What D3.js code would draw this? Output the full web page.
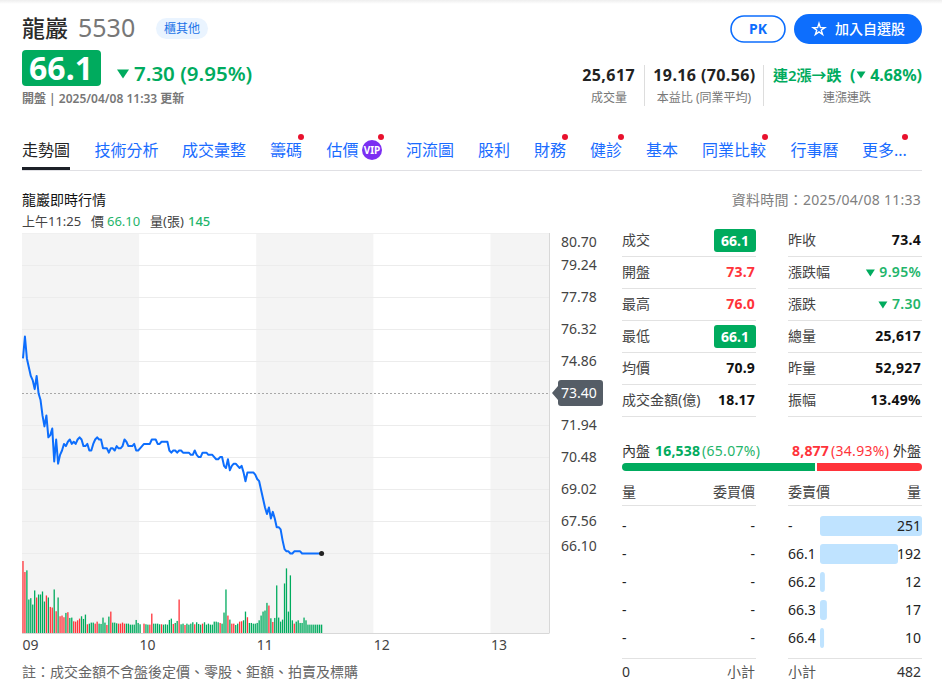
<!DOCTYPE html>
<html><head><meta charset="utf-8">
<script src="https://cdn.jsdelivr.net/npm/d3@7"></script>
<style>
html,body{margin:0;padding:0;background:#fff;overflow:hidden}
svg{display:block}
text{font-family:"Noto Sans","Noto Sans CJK TC",sans-serif}
</style></head><body>
<svg id="c" width="942" height="693"></svg>
<script>
const prices=[75.0,76.0,75.0,74.6,74.2,74.0,73.6,74.2,73.4,73.1,
72.4,71.9,72.4,71.4,71.5,71.8,70.3,71.3,70.2,70.6,
70.8,71.1,71.0,71.2,71.3,71.1,71.2,71.1,71.3,71.4,
71.3,71.0,71.0,71.1,70.8,70.8,71.1,71.3,71.4,71.3,
71.3,70.9,70.9,70.9,70.7,70.9,70.9,70.8,71.0,70.9,
70.9,71.0,71.3,71.2,71.0,71.0,71.0,71.1,70.8,70.8,
70.9,71.0,71.1,71.1,71.1,71.1,71.3,71.3,71.3,71.1,
71.1,71.2,71.2,71.2,71.2,70.8,70.7,70.8,70.8,70.7,
70.8,70.8,70.7,70.7,70.7,70.7,70.6,70.6,70.8,70.6,
70.5,70.5,70.7,70.7,70.7,70.6,70.6,70.6,70.5,70.4,
70.4,70.5,70.5,70.1,70.0,70.4,69.9,70.1,70.2,70.2,
70.1,70.0,70.1,69.8,69.4,69.8,69.8,69.8,69.8,69.7,
69.5,69.4,69.0,68.6,68.2,67.9,68.2,67.7,68.0,67.7,
67.3,67.3,67.2,66.7,66.3,66.2,66.2,66.1,66.1,66.2,
66.2,66.2,66.2,66.1,66.1,66.1,66.1,66.1,66.1,66.1,66.1,66.1,66.1,66.1];
const volumes=[1247,1056,1085,580,603,493,737,615,667,667,
719,545,650,615,452,441,754,377,615,290,
302,273,348,360,261,267,203,197,220,249,
290,244,319,151,162,180,180,162,197,162,
157,267,180,139,284,371,180,180,168,162,
162,180,162,162,162,145,145,145,226,174,
151,0,162,151,145,145,336,162,162,162,
151,151,145,151,145,226,249,157,174,209,
580,151,162,139,162,145,162,186,151,186,
157,145,162,186,145,162,145,145,197,197,
186,174,162,354,754,302,232,162,162,139,
162,197,203,220,371,273,174,174,162,162,
174,220,302,371,389,522,476,255,191,261,
824,267,197,232,858,1119,371,998,220,162,
197,220,174,174,267,220,145,145,145,145,145,145,145,145];
const upBars=[0,1,7,12,14,15,17,19,20,21,23,26,27,28,29,33,37,38,43,45,49,50,51,52,62,65,66,71,77,80,83,88,92,101,105,107,108,111,112,115,126,128,139];
const priceTicks=[80.70,79.24,77.78,76.32,74.86,71.94,70.48,69.02,67.56,66.10];
const prevClose=73.40;
const hourTicks=[0,60,120,180,240];
const hourLabels=["09","10","11","12","13"];
const tabs=["技術分析","成交彙整","籌碼","估價","河流圖","股利","財務","健診","基本","同業比較","行事曆","更多..."];
const tabX=[94.5,182,270,326.5,406,478,534,590,646,702,790.5,862];
const tabDots=[301,381,565,621,765,905];
const leftLabels=["成交","開盤","最高","最低","均價","成交金額(億)"];
const leftValues=["66.1","73.7","76.0","66.1","70.9","18.17"];
const leftKinds=["box","up","up","box","n","n"];
const rightLabels=["昨收","漲跌幅","漲跌","總量","昨量","振幅"];
const rightValues=["73.4","9.95%","7.30","25,617","52,927","13.49%"];
const rightKinds=["n","down","down","n","n","n"];
const askPrices=["-","66.1","66.2","66.3","66.4"];
const askQty=[251,192,12,17,10];

const GREEN="#00ab5e",RED="#ff333a",BLUE="#0d6efd";
const svg=d3.select("#c");
function T(x,y,s,o={}){
  const t=svg.append("text").attr("x",x).attr("y",y).text(s)
   .attr("font-size",o.size||14).attr("fill",o.fill||"#333")
   .attr("font-weight",o.weight||400).attr("text-anchor",o.anchor||"start");
  if(o.ls) t.attr("letter-spacing",o.ls);
  return t;
}
function R(x,y,w,h,fill,rx){return svg.append("rect").attr("x",x).attr("y",y).attr("width",w).attr("height",h).attr("fill",fill).attr("rx",rx||0);}
function L(x1,y1,x2,y2,c){return svg.append("line").attr("x1",x1).attr("y1",y1).attr("x2",x2).attr("y2",y2).attr("stroke",c).attr("stroke-width",1);}
function tri(cx,cy,w,h,c){svg.append("path").attr("d",`M${cx-w/2},${cy-h/2}L${cx+w/2},${cy-h/2}L${cx},${cy+h/2}Z`).attr("fill",c);}

// top shadow
const defs=svg.append("defs");
const g0=defs.append("linearGradient").attr("id","sh").attr("x1",0).attr("x2",0).attr("y1",0).attr("y2",1);
g0.append("stop").attr("offset",0).attr("stop-color","#eee");
g0.append("stop").attr("offset",1).attr("stop-color","#fff");
R(0,0,942,4,"url(#sh)");

// header
T(22,37,"龍巖",{size:23,weight:500,fill:"#2b2b2b"});
T(78,37,"5530",{size:25,fill:"#777"});
R(156,18,52,21,"#eaf4ff",10.5);
T(182,33,"櫃其他",{size:12,fill:"#1a73e8",anchor:"middle"});
R(22,50,79,36,GREEN,4);
T(61,80,"66.1",{size:32,weight:700,fill:"#fff",anchor:"middle"});
tri(123,74,12,9,GREEN);
T(134,81,"7.30 (9.95%)",{size:20.5,weight:600,fill:GREEN});
T(22,103,"開盤 | 2025/04/08 11:33 更新",{size:12,weight:600,fill:"#777"});

// buttons
svg.append("rect").attr("x",731).attr("y",16).attr("width",54).attr("height",26).attr("rx",13).attr("fill","#fff").attr("stroke",BLUE).attr("stroke-width",1.6);
T(758,34,"PK",{size:14,weight:700,fill:BLUE,anchor:"middle"});
R(794,14,128,30,BLUE,15);
svg.append("path").attr("d",d3.symbol(d3.symbolStar,42)()).attr("transform","translate(819,29.5)").attr("fill","none").attr("stroke","#fff").attr("stroke-width",1.4);
T(835,34,"加入自選股",{size:14,weight:500,fill:"#fff"});

// stats
T(635,81,"25,617",{size:16,weight:700,fill:"#222",anchor:"end",ls:0.4});
T(609,102,"成交量",{size:12,fill:"#777",anchor:"middle"});
L(644.5,65,644.5,106,"#ddd");
T(704.5,81,"19.16 (70.56)",{size:16,weight:700,fill:"#222",anchor:"middle",ls:0.4});
T(704,102,"本益比 (同業平均)",{size:12,fill:"#777",anchor:"middle"});
L(763.5,65,763.5,106,"#ddd");
T(773,81,"連2漲→跌",{size:15,weight:600,fill:GREEN});
T(850,81,"(",{size:16,weight:700,fill:GREEN});
tri(861,75,9,7,GREEN);
T(922,81,"4.68%)",{size:16,weight:700,fill:GREEN,anchor:"end"});
T(847,102,"連漲連跌",{size:12,fill:"#777",anchor:"middle"});

// tabs
T(22,156,"走勢圖",{size:16,fill:"#222"});
tabs.forEach((s,i)=>T(tabX[i],156,s,{size:16,fill:"#1a6cff"}));
svg.append("circle").attr("cx",372).attr("cy",150).attr("r",10).attr("fill","#7b2ff2");
T(372,154,"VIP",{size:10,weight:700,fill:"#fff",anchor:"middle"});
svg.selectAll("circle.d").data(tabDots).join("circle").attr("class","d").attr("cx",d=>d).attr("cy",137).attr("r",3).attr("fill","#e8112d");
R(22,170,900,1,"#e0e0e4");
R(22,167,48,3,"#1c2027");

T(22,205,"龍巖即時行情",{size:14,fill:"#111"});
T(921,205,"資料時間：2025/04/08 11:33",{size:14,fill:"#808080",anchor:"end",ls:0.25});
T(22,226,"上午11:25",{size:13,fill:"#444"});
T(91,226,"價",{size:13,fill:"#444"});
T(107,226,"66.10",{size:13,fill:"#1fb56b"});
T(150,226,"量(張)",{size:13,fill:"#444"});
T(188,226,"145",{size:13,weight:500,fill:"#1fb56b"});

// chart
const x=d3.scaleLinear().domain([0,270]).range([22,549]);
const y=d3.scaleLinear().domain([66.10,80.70]).range([553,233]);
const v=d3.scaleLinear().domain([0,1247]).range([633,561]);
const bands=[[0,60],[120,180],[240,270]];
svg.append("g").selectAll("rect").data(bands).join("rect")
  .attr("x",d=>x(d[0])).attr("width",d=>x(d[1])-x(d[0])).attr("y",233).attr("height",400).attr("fill","#f4f4f4");
svg.append("g").selectAll("line").data(priceTicks).join("line")
  .attr("x1",22).attr("x2",549).attr("y1",d=>y(d)+.5).attr("y2",d=>y(d)+.5).attr("stroke","#ececec");
svg.append("line").attr("x1",22).attr("x2",549).attr("y1",y(prevClose)+.5).attr("y2",y(prevClose)+.5)
  .attr("stroke","#a8a8a8").attr("stroke-dasharray","2,2");
// volume
svg.append("g").selectAll("rect").data(volumes).join("rect")
  .attr("x",(d,i)=>x(i+.5)-.65).attr("width",1.3)
  .attr("y",d=>v(d)).attr("height",d=>633-v(d))
  .attr("fill",(d,i)=>upBars.includes(i)?RED:GREEN);
// axes
const ax=svg.append("g").attr("transform","translate(549,0)")
  .call(d3.axisRight(y).tickValues(priceTicks).tickFormat(d3.format(".2f")).tickSize(0).tickPadding(12));
ax.select(".domain").remove();
ax.selectAll("text").attr("font-size",14).attr("fill","#444").attr("font-family",null)
  .attr("dy",d=>d===80.70?"0.95em":d===66.10?"-0.15em":"0.32em");
const bx=svg.append("g").attr("transform","translate(0,633)")
  .call(d3.axisBottom(x).tickValues(hourTicks).tickFormat((d,i)=>hourLabels[i]).tickSize(0).tickPadding(7));
bx.select(".domain").remove();
bx.selectAll("text").attr("font-size",14).attr("fill","#444").attr("font-family",null).attr("text-anchor","start");
L(549.5,233,549.5,633,"#d8d8d8");
L(22,633.5,549.5,633.5,"#d8d8d8");
L(22,233.5,549,233.5,"#f0f0f0");
// line
svg.append("path").datum(prices).attr("transform","translate(0,.5)")
  .attr("d",d3.line().x((d,i)=>x(i+.5)).y(d=>y(d)))
  .attr("fill","none").attr("stroke",BLUE).attr("stroke-width",2).attr("stroke-linejoin","round");
svg.append("circle").attr("cx",x(prices.length-1+.5)).attr("cy",y(prices[prices.length-1])+.5).attr("r",2.5).attr("fill","#222");
// prev close tag
const py=y(prevClose);
svg.append("path").attr("d",`M552,${py}L558,${py-7}L558,${py-10}Q558,${py-13} 561,${py-13}L600,${py-13}Q603,${py-13} 603,${py-10}L603,${py+10}Q603,${py+13} 600,${py+13}L561,${py+13}Q558,${py+13} 558,${py+10}L558,${py+7}Z`).attr("fill","#555d66");
T(561,py+5,d3.format(".2f")(prevClose),{size:14,fill:"#fff"});

T(22,677,"註：成交金額不含盤後定價、零股、鉅額、拍賣及標購",{size:14,fill:"#666"});

// quote table
const rowY=i=>240+i*32;
leftLabels.forEach((s,i)=>{
  const cy=rowY(i);
  T(622,cy+5,s,{size:14,fill:"#444"});
  const k=leftKinds[i];
  if(k==="box"){R(714,cy-11,42,23,GREEN,3);T(735,cy+5.5,leftValues[i],{size:14,weight:700,fill:"#fff",anchor:"middle"});}
  else T(755,cy+5,leftValues[i],{size:14,weight:700,fill:k==="up"?RED:"#111",anchor:"end",ls:0.2});
  L(622,cy+16.5,756,cy+16.5,"#e2e2e2");
  T(788,cy+5,rightLabels[i],{size:14,fill:"#444"});
  const rk=rightKinds[i];
  const rt=T(921,cy+5,rightValues[i],{size:14,weight:rk==="down"?600:700,fill:rk==="down"?"#1fb56b":"#111",anchor:"end",ls:0.3});
  if(rk==="down"){const w=rt.node().getComputedTextLength();tri(921-w-9,cy+1,9,7,GREEN);}
  L(788,cy+16.5,922,cy+16.5,"#e2e2e2");
});

// in/out
T(622,456,"內盤",{size:14,fill:"#333"});
T(655,456,"16,538",{size:14,weight:700,fill:GREEN,ls:0.2});
T(702,456,"(65.07%)",{size:14,fill:"#1fb56b",ls:0.3});
T(792,456,"8,877",{size:14,weight:700,fill:RED,ls:0.2});
T(831,456,"(34.93%)",{size:14,fill:RED,ls:0.3});
T(921,456,"外盤",{size:14,fill:"#333",anchor:"end"});
svg.append("path").attr("d","M626,463H815V471H626A4,4 0 0 1 626,463Z").attr("fill",GREEN);
svg.append("path").attr("d","M817,463H918A4,4 0 0 1 918,471H817Z").attr("fill",RED);

// order book
T(622,497,"量",{size:14,fill:"#444"});
T(755,497,"委買價",{size:14,fill:"#444",anchor:"end"});
T(788,497,"委賣價",{size:14,fill:"#444"});
T(921,497,"量",{size:14,fill:"#444",anchor:"end"});
L(622,505.5,756,505.5,"#e2e2e2");
L(788,505.5,922,505.5,"#e2e2e2");
const q=d3.scaleLinear().domain([0,251]).range([0,102]);
askQty.forEach((d,i)=>{
  const cy=526+i*28;
  T(622,cy+5,"-",{size:14,fill:"#222"});
  T(755,cy+5,"-",{size:14,fill:"#222",anchor:"end"});
  R(820,cy-10,q(d),20,"#bfe3ff",3);
  T(788,cy+5,askPrices[i],{size:14,fill:"#222"});
  T(921,cy+5,String(d),{size:14,fill:"#222",anchor:"end"});
});
L(622,658.5,756,658.5,"#e2e2e2");
L(788,658.5,922,658.5,"#e2e2e2");
T(622,677,"0",{size:14,fill:"#333"});
T(755,677,"小計",{size:14,fill:"#555",anchor:"end"});
T(788,677,"小計",{size:14,fill:"#555"});
T(921,677,"482",{size:14,fill:"#333",anchor:"end"});
</script></body></html>
